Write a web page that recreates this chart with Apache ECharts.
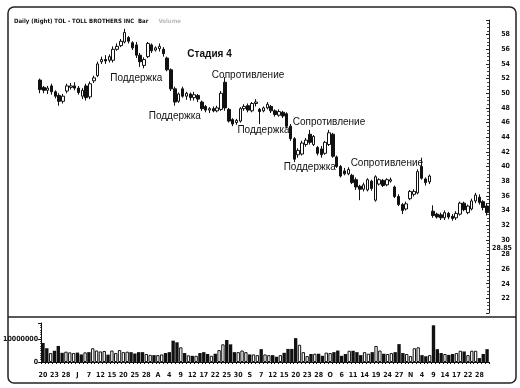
<!DOCTYPE html>
<html>
<head>
<meta charset="utf-8">
<script src="https://cdn.jsdelivr.net/npm/echarts@6/dist/echarts.min.js"></script>
<style>
html,body{margin:0;padding:0;background:#fff;}
#chart{width:520px;height:388px;}
</style>
</head>
<body>
<div id="chart"></div>
<script>
// ---- tick labels along the date axis (one every 3 trading days) ----
const tickLabels = ['20','23','28','J','7','12','15','20','25','28','A','4','9','12','17','22','25','30','S','7','12','15','20','23','28','O','6','11','14','19','24','27','N','4','9','14','17','22','28'];

// ---- daily OHLC: [open, close, low, high] ----
const ohlc = [
[51.8,50.5,50.0,52.0],[50.8,50.4,50.0,51.0],[50.4,50.7,49.9,51.0],[51.0,50.2,49.8,51.3],[50.2,49.6,49.3,50.4],
[49.7,48.9,48.3,50.0],[48.9,49.6,48.6,49.9],[50.3,51.0,50.0,51.3],[50.8,51.0,50.5,51.4],[51.0,50.7,50.4,51.5],
[50.7,50.1,49.8,51.0],[49.6,50.4,49.2,50.7],[51.0,49.4,49.0,51.3],[49.5,51.3,49.2,51.6],[51.7,52.1,51.4,52.4],
[52.4,54.0,52.2,54.3],[54.3,54.6,54.0,55.0],[54.6,54.4,54.0,55.2],[54.5,55.0,54.2,55.3],[54.5,56.0,54.2,56.4],
[56.0,56.4,55.8,56.8],[56.5,57.1,56.3,57.4],[57.0,58.3,56.8,58.8],[57.6,57.1,56.8,57.8],[56.9,56.2,55.9,57.1],
[56.6,55.2,54.8,57.0],[55.2,54.3,53.6,55.5],[53.8,54.6,53.4,54.9],[55.0,56.8,54.8,57.0],[56.6,55.8,55.5,56.8],
[55.9,56.2,55.7,56.4],[56.1,56.4,55.7,56.8],[56.0,55.4,55.0,56.3],[54.8,53.2,53.0,55.0],[53.2,50.6,50.3,53.4],
[50.6,48.8,48.3,50.9],[48.9,49.9,48.7,50.1],[50.6,49.6,49.4,50.9],[49.6,50.0,49.1,50.2],[49.9,49.4,49.0,50.1],
[49.4,49.8,49.0,50.2],[49.7,49.2,48.8,49.9],[48.8,47.9,47.6,49.0],[48.2,47.7,47.4,48.4],[47.7,47.9,47.3,48.1],
[47.9,47.6,47.4,48.2],[47.6,48.0,47.4,48.3],[47.8,50.0,47.6,50.3],[51.5,48.0,47.6,52.2],[47.8,46.2,46.0,48.0],
[46.4,45.8,45.5,46.6],[46.0,46.3,45.7,46.5],[46.2,47.9,46.0,48.1],[47.9,48.2,47.6,48.5],[48.3,47.7,47.4,48.6],
[47.6,48.6,47.4,48.8],[48.6,48.8,48.2,49.2],[47.8,47.5,45.8,48.0],[47.6,48.0,47.4,48.2],[48.0,48.5,47.8,48.8],
[48.2,47.6,47.3,48.4],[47.6,47.1,46.8,47.8],[47.0,47.5,46.8,47.8],[47.4,46.9,46.6,47.6],[47.2,45.5,45.2,47.4],
[45.5,43.8,43.5,45.8],[43.8,41.0,40.6,44.0],[41.6,42.2,41.2,42.5],[41.7,43.2,41.5,43.5],[43.0,43.6,42.7,43.9],
[44.4,43.3,43.0,45.0],[43.0,44.1,42.8,44.3],[42.6,41.8,41.5,42.8],[42.4,41.6,41.2,42.8],[41.8,43.3,41.6,43.5],
[43.0,44.6,42.8,45.0],[44.4,41.4,41.2,44.6],[41.3,40.0,39.8,41.5],[40.0,38.7,38.5,40.2],[39.4,39.0,38.8,39.8],
[39.0,39.6,38.8,39.9],[38.8,37.8,37.6,39.0],[38.2,37.2,36.8,38.5],[37.3,36.9,35.4,37.5],[36.9,37.5,36.6,37.8],
[36.8,38.2,36.6,38.4],[38.0,37.0,36.7,38.2],[35.4,38.6,35.2,38.8],[37.6,38.2,37.4,38.4],[38.1,37.4,37.2,38.3],
[37.5,38.2,37.3,38.4],[38.0,38.2,37.8,38.5],[37.2,35.9,35.7,37.4],[35.9,34.8,34.6,36.2],[34.8,34.0,33.5,35.0],
[34.2,34.9,34.0,35.2],[35.6,36.6,35.4,36.8],[36.2,36.6,35.9,36.9],[36.4,39.3,36.2,39.6],[40.0,38.4,38.2,41.2],
[38.3,37.8,37.4,38.5],[37.9,38.7,37.6,38.9],[33.9,33.3,33.0,34.7],[33.5,33.1,32.9,33.7],[33.4,33.0,32.7,33.7],
[33.0,33.7,32.7,34.0],[33.6,33.1,32.8,33.8],[33.2,32.9,32.6,33.5],[33.0,33.6,32.7,33.9],[33.5,35.0,33.3,35.2],
[35.0,34.1,33.9,35.2],[33.7,34.6,33.5,34.8],[34.2,35.3,34.0,35.6],[35.3,36.1,35.0,36.4],[35.8,35.1,34.8,36.2],
[35.2,34.4,34.0,35.4],[34.6,33.7,33.3,35.0]
];

// ---- daily volume, millions of shares ----
const volumeM = [
8.3,6.0,3.9,4.9,7.0,4.0,4.5,4.2,3.9,4.1,3.3,4.2,4.3,6.0,5.0,4.6,4.8,3.2,5.0,3.9,
5.2,4.3,4.5,4.3,3.7,4.3,4.3,3.5,3.1,3.0,3.0,3.3,3.9,4.3,9.3,8.6,6.4,3.9,2.9,2.7,
2.7,3.9,4.3,3.5,2.7,3.6,5.2,7.7,9.6,7.7,4.3,4.3,5.0,4.3,3.3,3.3,3.0,5.6,3.3,3.0,
3.0,2.3,3.0,4.0,5.7,5.7,10.4,7.5,4.3,2.6,3.5,3.6,3.6,2.7,4.1,3.9,4.3,5.0,2.7,3.5,
4.9,4.9,4.3,3.0,4.3,3.6,4.3,7.0,5.0,3.6,3.5,3.9,4.3,7.8,3.9,3.5,2.6,6.0,6.4,3.0,
2.5,3.0,16.0,5.6,3.9,3.5,3.1,3.5,3.9,4.9,4.6,3.0,4.9,4.9,1.7,3.5,5.6
];

// ---- price-axis tick values & marker ----
const priceTicks = [22,24,26,28,30,32,34,36,38,40,42,44,46,48,50,52,54,56,58];
const lastMarker = 28.85;

// ---- text annotations: [label, bar index, price, bold] ----
const notes = [
  ['Стадия 4', 44.4, 55.3, true],
  ['Поддержка', 25.2, 52.1, false],
  ['Сопротивление', 53.5, 52.5, false],
  ['Поддержка', 35.0, 46.8, false],
  ['Поддержка', 57.6, 45.0, false],
  ['Сопротивление', 74.7, 46.0, false],
  ['Поддержка', 69.5, 39.9, false],
  ['Сопротивление', 89.5, 40.5, false]
];

const cats = ohlc.map((d, i) => 'd' + i);
const FONT = '"Liberation Sans Narrow","DejaVu Sans Condensed","Liberation Sans",sans-serif';
const chart = echarts.init(document.getElementById('chart'), null, {renderer: 'canvas'});

const volData = volumeM.map((v, i) => {
  const up = ohlc[i][1] >= ohlc[i][0];
  return {value: v * 1e6, itemStyle: {color: up ? '#fff' : '#111', borderColor: '#111', borderWidth: up ? 1 : 0}};
});

chart.setOption({
  animation: false,
  backgroundColor: '#fff',
  title: {
    text: '{b|Daily (Right) TOL - TOLL BROTHERS INC  Bar}  {g|Volume}',
    left: 14, top: 12, padding: 0,
    textStyle: {
      rich: {
        b: {fontFamily: FONT, fontWeight: 'bold', fontSize: 6, color: '#111'},
        g: {fontFamily: FONT, fontSize: 6, color: '#bbb'}
      }
    }
  },
  grid: [
    {left: 38, width: 451, top: 20, height: 293},
    {left: 38, width: 451, top: 323, height: 39}
  ],
  xAxis: [
    {type: 'category', gridIndex: 0, data: cats, boundaryGap: true,
     axisLine: {show: false}, axisTick: {show: false}, axisLabel: {show: false}, splitLine: {show: false}},
    {type: 'category', gridIndex: 1, data: cats, boundaryGap: true,
     axisLine: {show: true, lineStyle: {color: '#111', width: 1}},
     axisTick: {show: true, interval: 0, length: 2, lineStyle: {color: '#111'}},
     axisLabel: {
       interval: 0, margin: 10,
       fontFamily: FONT, fontWeight: 'bold', fontSize: 7, color: '#111',
       formatter: (v, idx) => (idx % 3 === 0 && tickLabels[idx / 3] !== undefined) ? tickLabels[idx / 3] : ''
     },
     splitLine: {show: false}}
  ],
  yAxis: [
    {type: 'value', gridIndex: 0, position: 'right', min: 20, max: 60, interval: 2,
     axisLine: {show: true, lineStyle: {color: '#222', width: 1}},
     axisTick: {show: true, inside: true, length: 3, lineStyle: {color: '#222'}},
     minorTick: {show: true, splitNumber: 4, length: 2, lineStyle: {color: '#444'}},
     axisLabel: {
       showMinLabel: false, showMaxLabel: false, margin: 21, align: 'right',
       fontFamily: FONT, fontWeight: 'bold', fontSize: 7, color: '#111',
       formatter: v => priceTicks.indexOf(v) >= 0 ? String(v) : ''
     },
     splitLine: {show: false}},
    {type: 'value', gridIndex: 1, position: 'left', min: 0, max: 17e6, interval: 1e7,
     axisLine: {show: true, lineStyle: {color: '#111', width: 1}},
     axisTick: {show: true, length: 3, lineStyle: {color: '#111'}},
     minorTick: {show: true, splitNumber: 10, length: 1, lineStyle: {color: '#444'}},
     axisLabel: {
       margin: 3, fontFamily: FONT, fontWeight: 'bold', fontSize: 7, color: '#111',
       showMaxLabel: false,
       formatter: v => (v === 0 || v === 1e7) ? String(v) : ''
     },
     splitLine: {show: false}}
  ],
  series: [
    {
      type: 'candlestick', xAxisIndex: 0, yAxisIndex: 0, data: ohlc.map(d => [d[0], d[1], d[2], d[3]]),
      barWidth: 3,
      itemStyle: {color: '#fff', color0: '#111', borderColor: '#111', borderColor0: '#111', borderWidth: 1},
      markLine: {
        silent: true, symbol: 'none',
        lineStyle: {color: 'rgba(0,0,0,0)', width: 1, type: 'solid'},
        label: {show: true, position: 'end', distance: 3, fontFamily: FONT, fontWeight: 'bold', fontSize: 7, color: '#111', formatter: String(lastMarker)},
        data: [{yAxis: lastMarker}]
      },
      markPoint: {
        silent: true, symbol: 'circle', symbolSize: 0,
        data: notes.map(n => ({
          coord: [n[1], n[2]],
          label: {
            show: true, position: 'inside', formatter: n[0],
            fontFamily: '"Liberation Sans",Arial,sans-serif',
            fontSize: 10, fontWeight: n[3] ? 'bold' : 'normal', color: '#111'
          }
        }))
      }
    },
    {
      type: 'bar', xAxisIndex: 1, yAxisIndex: 1, data: volData, barWidth: '88%', barGap: '0%'
    }
  ],
  graphic: [
    {type: 'rect', silent: true, shape: {x: 8, y: 7, width: 508, height: 376, r: 6},
     style: {fill: null, stroke: '#222', lineWidth: 1.5}, z: 100},
    {type: 'line', silent: true, shape: {x1: 8, y1: 317, x2: 516, y2: 317},
     style: {stroke: '#222', lineWidth: 1.5}, z: 100}
  ]
});
</script>
</body>
</html>
